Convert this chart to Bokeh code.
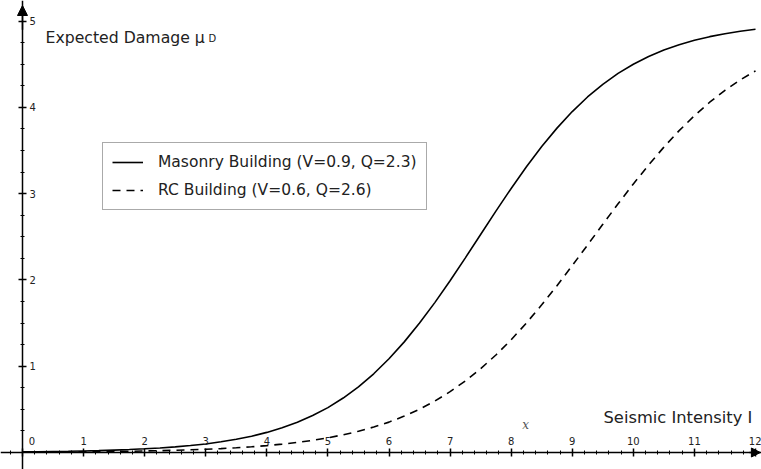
from bokeh.plotting import figure
from bokeh.models import (Range1d, FixedTicker, Arrow, NormalHead, Legend,
                          LegendItem, ColumnDataSource, Label)
from bokeh.embed import file_html
from bokeh.resources import INLINE

# ---- data ----
intensity = [0, 0.25, 0.5, 0.75, 1, 1.25, 1.5, 1.75, 2, 2.25, 2.5, 2.75,
             3, 3.25, 3.5, 3.75, 4, 4.25, 4.5, 4.75, 5, 5.25, 5.5, 5.75,
             6, 6.25, 6.5, 6.75, 7, 7.25, 7.5, 7.75, 8, 8.25, 8.5, 8.75,
             9, 9.25, 9.5, 9.75, 10, 10.25, 10.5, 10.75, 11, 11.25, 11.5,
             11.75, 12]
masonry = [0.008, 0.009, 0.012, 0.014, 0.018, 0.022, 0.028, 0.034, 0.043,
           0.053, 0.065, 0.081, 0.099, 0.124, 0.153, 0.189, 0.233, 0.286,
           0.350, 0.428, 0.520, 0.631, 0.761, 0.912, 1.086, 1.282, 1.500,
           1.737, 1.991, 2.256, 2.527, 2.797, 3.060, 3.312, 3.546, 3.759,
           3.951, 4.120, 4.267, 4.393, 4.499, 4.589, 4.664, 4.726, 4.777,
           4.819, 4.853, 4.881, 4.904]
rc = [0.004, 0.005, 0.006, 0.007, 0.008, 0.010, 0.012, 0.014, 0.018, 0.021,
      0.026, 0.031, 0.038, 0.045, 0.055, 0.066, 0.080, 0.097, 0.117, 0.141,
      0.170, 0.205, 0.246, 0.295, 0.352, 0.422, 0.502, 0.596, 0.705, 0.829,
      0.971, 1.130, 1.307, 1.501, 1.711, 1.933, 2.166, 2.404, 2.644, 2.882,
      3.112, 3.332, 3.539, 3.730, 3.903, 4.059, 4.197, 4.318, 4.423]
x_ticks = [0, 1, 2, 3, 4, 5, 6, 7, 8, 9, 10, 11, 12]
y_ticks = [1, 2, 3, 4, 5]
label_masonry = "Masonry Building (V=0.9, Q=2.3)"
label_rc = "RC Building (V=0.6, Q=2.6)"

FONT = "DejaVu Sans"
INK = "#222222"

p = figure(width=761, height=469,
           x_range=Range1d(-0.360, 12.098), y_range=Range1d(-0.197, 5.238),
           output_backend="svg", toolbar_location=None,
           x_axis_location="above", y_axis_location="right",
           min_border=0)
p.grid.visible = False
p.outline_line_color = None
p.background_fill_color = "white"

# axes crossing at the origin
for ax in (p.xaxis[0], p.yaxis[0]):
    ax.fixed_location = 0
    ax.axis_line_color = "black"
    ax.axis_line_width = 1.5
    ax.major_tick_line_color = "black"
    ax.major_tick_line_width = 1.5
    ax.minor_tick_line_color = "black"
    ax.minor_tick_line_width = 1
    ax.major_tick_in = 4
    ax.major_tick_out = 4
    ax.minor_tick_in = 2
    ax.minor_tick_out = 2
    ax.major_label_text_font = FONT
    ax.major_label_text_font_size = "10px"
    ax.major_label_text_color = INK

p.xaxis[0].ticker = FixedTicker(ticks=x_ticks,
                                minor_ticks=[i * 0.2 for i in range(-1, 61)])
p.xaxis[0].major_label_standoff = 2
p.xaxis[0].major_label_overrides = {0: "\u00a0" * 6 + "0"}
p.yaxis[0].ticker = FixedTicker(ticks=y_ticks,
                                minor_ticks=[i * 0.25 for i in range(0, 21)])
p.yaxis[0].major_label_standoff = 3

src = ColumnDataSource(dict(x=intensity, m=masonry, r=rc))
r1 = p.line("x", "m", source=src, line_color="black", line_width=1.6)
r2 = p.line("x", "r", source=src, line_color="black", line_width=1.6,
            line_dash="8 6")

# arrow heads on the axes
p.add_layout(Arrow(end=NormalHead(size=10, fill_color="black", line_color="black"),
                   x_start=0, y_start=4.9, x_end=0, y_end=5.18,
                   line_color="black", line_width=1.5))
p.add_layout(Arrow(end=NormalHead(size=9, fill_color="black", line_color="black"),
                   x_start=11.9, y_start=0, x_end=12.08, y_end=0,
                   line_color="black", line_width=1.5))

# axis titles
p.add_layout(Label(x=0.3765, y=4.809, text="Expected Damage \u03bc",
                   text_font=FONT, text_font_size="15.7px", text_color=INK,
                   text_baseline="middle"))
p.add_layout(Label(x=3.045, y=4.80, text="D",
                   text_font=FONT, text_font_size="10px", text_color=INK,
                   text_baseline="middle"))
p.add_layout(Label(x=9.512, y=0.411, text="Seismic Intensity I",
                   text_font=FONT, text_font_size="16.3px", text_color=INK,
                   text_baseline="middle"))
p.add_layout(Label(x=8.235, y=0.313, text="x", text_align="center",
                   text_font="DejaVu Serif", text_font_style="italic",
                   text_font_size="12px", text_color="#555555",
                   text_baseline="middle"))

legend = Legend(items=[LegendItem(label=label_masonry, renderers=[r1]),
                       LegendItem(label=label_rc, renderers=[r2])],
                location=(102, 259), orientation="vertical",
                border_line_color="#555555", border_line_width=1.5,
                background_fill_color="white", background_fill_alpha=1,
                padding=9, spacing=8, margin=0,
                glyph_height=20, glyph_width=31, label_height=20,
                label_standoff=15, label_text_font=FONT,
                label_text_font_size="15.5px", label_text_color=INK)
p.add_layout(legend)

open("out.html", "w").write(file_html(p, INLINE))
